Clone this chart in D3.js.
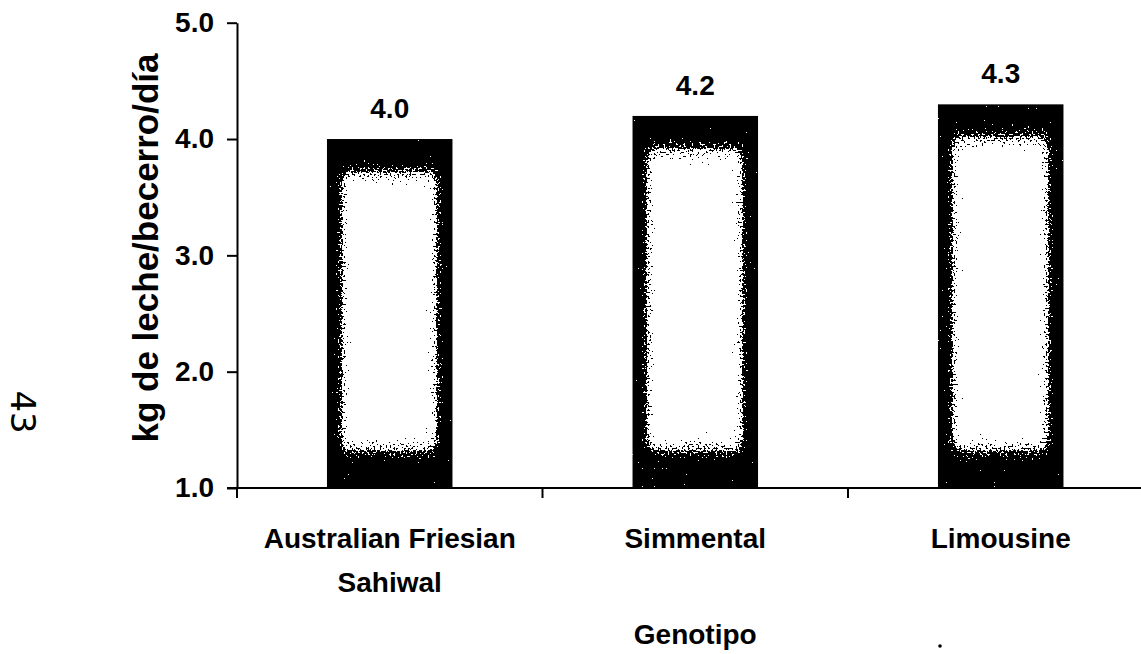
<!DOCTYPE html>
<html>
<head>
<meta charset="utf-8">
<script src="https://cdn.jsdelivr.net/npm/d3@7/dist/d3.min.js"></script>
<style>
  html, body { margin: 0; padding: 0; background: #fff; }
  svg { display: block; }
  text { font-family: "Liberation Sans", Arial, Helvetica, sans-serif; font-weight: bold; fill: #000; }
  text.mark { font-family: "DejaVu Sans", sans-serif; font-weight: normal; }
</style>
</head>
<body>
<div id="chart"></div>
<script>
// Milk intake per calf by genotype
const categories = ["Australian Friesian Sahiwal", "Simmental", "Limousine"];
const categoryLines = [["Australian Friesian", "Sahiwal"], ["Simmental"], ["Limousine"]];
const values = [4.0, 4.2, 4.3];
const yTicks = [1.0, 2.0, 3.0, 4.0, 5.0];
const yTitle = "kg de leche/becerro/día";
const xTitle = "Genotipo";
const pageMark = "43";

const W = 1141, H = 654;
const plotLeft = 237, step = 305.5;
const yBottom = 488, yTop = 22.7;

const svg = d3.select("#chart").append("svg")
  .attr("width", W).attr("height", H);

const x = d3.scaleBand()
  .domain(categories)
  .range([plotLeft, plotLeft + step * categories.length])
  .paddingInner(0.588)
  .paddingOuter(0.294);

const y = d3.scaleLinear().domain([1, 5]).range([yBottom, yTop]);

// Grainy shading: a soft white core dithered against noise over a black bar
const defs = svg.append("defs");
const f = defs.append("filter").attr("id", "grain")
  .attr("filterUnits", "userSpaceOnUse")
  .attr("x", 0).attr("y", 0).attr("width", W).attr("height", H)
  .attr("color-interpolation-filters", "sRGB");
f.append("feGaussianBlur").attr("in", "SourceAlpha").attr("stdDeviation", "4 8").attr("result", "soft");
f.append("feTurbulence").attr("type", "fractalNoise").attr("baseFrequency", 0.5)
  .attr("numOctaves", 2).attr("seed", 7).attr("result", "noise");
f.append("feColorMatrix").attr("in", "noise").attr("type", "matrix")
  .attr("values", "0 0 0 0 0  0 0 0 0 0  0 0 0 0 0  1.8 0 0 0 -0.4").attr("result", "noiseA");
f.append("feComposite").attr("in", "soft").attr("in2", "noiseA").attr("operator", "arithmetic")
  .attr("k1", 0).attr("k2", 1).attr("k3", 1).attr("k4", -0.5).attr("result", "sum");
const ct = f.append("feComponentTransfer").attr("in", "sum").attr("result", "mask");
ct.append("feFuncA").attr("type", "discrete").attr("tableValues", "0 1");
f.append("feFlood").attr("flood-color", "#fff").attr("result", "white");
f.append("feComposite").attr("in", "white").attr("in2", "mask").attr("operator", "in");

const inset = { left: 15, right: 16, top: 33, bottom: 38 };

const bars = svg.append("g").selectAll("g")
  .data(categories.map((c, i) => ({ c, v: values[i], i })))
  .join("g");

bars.each(function(d) {
  const clipId = "clip" + d.i;
  defs.append("clipPath").attr("id", clipId)
    .append("rect")
    .attr("x", x(d.c)).attr("y", y(d.v))
    .attr("width", x.bandwidth()).attr("height", y(1) - y(d.v));
  const g = d3.select(this).attr("clip-path", `url(#${clipId})`);
  g.append("rect")
    .attr("x", x(d.c)).attr("y", y(d.v))
    .attr("width", x.bandwidth()).attr("height", y(1) - y(d.v))
    .attr("fill", "#000");
  g.append("rect")
    .attr("x", x(d.c) + inset.left).attr("y", y(d.v) + inset.top)
    .attr("width", x.bandwidth() - inset.left - inset.right)
    .attr("height", y(1) - y(d.v) - inset.top - inset.bottom)
    .attr("fill", "#fff")
    .attr("filter", "url(#grain)");
});

// Value labels
svg.append("g").selectAll("text")
  .data(categories.map((c, i) => ({ c, v: values[i] })))
  .join("text")
  .attr("x", d => x(d.c) + x.bandwidth() / 2)
  .attr("y", d => y(d.v) - 21)
  .attr("text-anchor", "middle")
  .attr("font-size", 28)
  .text(d => d3.format(".1f")(d.v));

// Y axis
const yAxis = svg.append("g")
  .attr("transform", `translate(${plotLeft},0)`)
  .call(d3.axisLeft(y).tickValues(yTicks).tickFormat(d3.format(".1f"))
    .tickSize(10).tickSizeOuter(0).tickPadding(13));
yAxis.selectAll("path, line").attr("stroke", "#000").attr("stroke-width", 2);
yAxis.selectAll("text").attr("font-size", 28);

// X axis with ticks at category boundaries
const xr = x.range();
const xAxis = svg.append("g");
xAxis.append("line")
  .attr("x1", xr[0] - 10).attr("x2", xr[1])
  .attr("y1", y(1)).attr("y2", y(1))
  .attr("stroke", "#000").attr("stroke-width", 2);
xAxis.selectAll(".bound")
  .data(d3.range(categories.length + 1))
  .join("line")
  .attr("x1", i => xr[0] + i * x.step()).attr("x2", i => xr[0] + i * x.step())
  .attr("y1", y(1)).attr("y2", y(1) + 10)
  .attr("stroke", "#000").attr("stroke-width", 2);

// Category labels
const catG = svg.append("g").selectAll("text")
  .data(categories.map((c, i) => ({ c, lines: categoryLines[i] })))
  .join("text")
  .attr("text-anchor", "middle")
  .attr("font-size", 28)
  .attr("x", d => x(d.c) + x.bandwidth() / 2)
  .attr("y", 548);
catG.selectAll("tspan")
  .data(d => d.lines.map(l => ({ l, cx: x(d.c) + x.bandwidth() / 2 })))
  .join("tspan")
  .attr("x", d => d.cx)
  .attr("dy", (d, i) => i === 0 ? 0 : 44)
  .text(d => d.l);

// Axis titles
svg.append("text")
  .attr("x", x(categories[1]) + x.bandwidth() / 2)
  .attr("y", 644)
  .attr("text-anchor", "middle")
  .attr("font-size", 28)
  .text(xTitle);

svg.append("text")
  .attr("transform", "translate(158,248) rotate(-90)")
  .attr("text-anchor", "middle")
  .attr("font-size", 35)
  .text(yTitle);

// Handwritten page number in the margin
svg.append("text")
  .attr("class", "mark")
  .attr("transform", "translate(11,412) rotate(90)")
  .attr("text-anchor", "middle")
  .attr("font-size", 34)
  .text(pageMark);

// Small speck below the plot
svg.append("circle").attr("cx", 940).attr("cy", 646).attr("r", 1.8).attr("fill", "#000");
</script>
</body>
</html>
